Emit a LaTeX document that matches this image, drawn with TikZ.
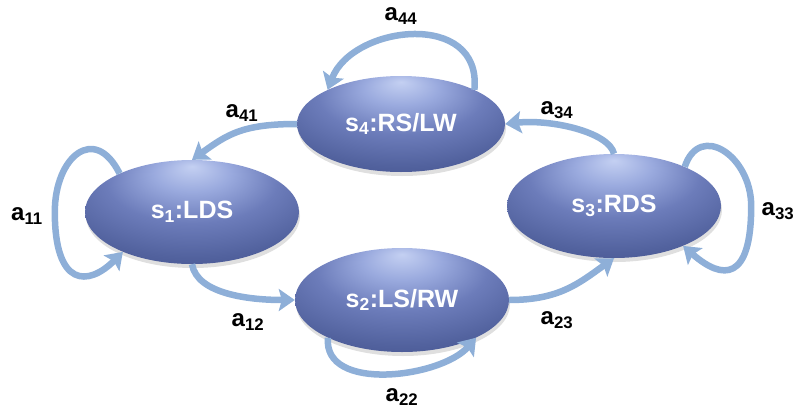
\documentclass[tikz,border=0pt]{standalone}
\usepackage{fontspec}
\setmainfont{Liberation Sans}
\usetikzlibrary{shapes.geometric,arrows.meta,calc,shadows}

\definecolor{linkblue}{HTML}{8EAFD8}
\definecolor{ballA}{HTML}{C4D0F2}
\definecolor{ballB}{HTML}{9AAADE}
\definecolor{ballC}{HTML}{6C7CBA}
\definecolor{ballD}{HTML}{52629E}
\definecolor{ballE}{HTML}{3E4C88}
\definecolor{ballF}{HTML}{2B366B}

% glossy fill of the state ellipses, brightest towards the top
\pgfdeclareradialshading{stateball}{\pgfpoint{0bp}{22bp}}{%
  color(0bp)=(ballA); color(9bp)=(ballB); color(20bp)=(ballC);
  color(32bp)=(ballD); color(44bp)=(ballE); color(60bp)=(ballF)}

\tikzset{
  statebox/.style={ellipse, shade, shading=stateball, inner sep=0pt,
    minimum width=214pt, minimum height=104pt, text=white,
    font=\fontsize{25}{30}\selectfont\bfseries,
    drop shadow={shadow xshift=1pt, shadow yshift=-4pt, opacity=0.25}},
  link/.style={draw=linkblue, line width=6.5pt,
    -{Stealth[length=16pt, width=22pt, inset=3pt]}},
  lbl/.style={font=\fontsize{24}{27}\selectfont\bfseries, text=black, inner sep=0pt}
}

\begin{document}
\begin{tikzpicture}[x=1pt, y=-1pt]
  \useasboundingbox (0,0) rectangle (797,413);

  % states
  \node[statebox] (s1) at (192,212) {s\textsubscript{1}:LDS};
  \node[statebox] (s2) at (402,300) {s\textsubscript{2}:LS/RW};
  \node[statebox] (s3) at (614,206) {s\textsubscript{3}:RDS};
  \node[statebox, minimum width=208pt, minimum height=96pt] (s4) at (401,124)
    {s\textsubscript{4}:RS/LW};

  % transitions
  \draw[link] (s4.25) .. controls +(8,-80) and +(25,-65) .. (s4.155);
  \draw[link] (s4.180) .. controls +(-55,0) and +(35,-25) .. (s1.90);
  \draw[link] (s1.152) .. controls +(-25,-50) and +(0,-55) .. ($(s1.west)+(-30,0)$)
                       .. controls +(0,75) and +(-35,35) .. (s1.210);
  \draw[link] (s1.270) .. controls +(5,30) and +(-45,0) .. (s2.180);
  \draw[link] (s2.207) .. controls +(-5,55) and +(-35,40) .. (s2.-27);
  \draw[link] (s2.0) .. controls +(50,0) and +(-35,25) .. (s3.270);
  \draw[link] (s3.90) .. controls +(-5,-22) and +(45,-5) .. (s4.0);
  \draw[link] (s3.29) .. controls +(15,-45) and +(0,-50) .. ($(s3.east)+(30,0)$)
                      .. controls +(0,75) and +(40,35) .. (s3.-30);

  % transition probabilities
  \node[lbl] (l44) at (401,16)  {a\textsubscript{44}};
  \node[lbl] (l41) at (242,113) {a\textsubscript{41}};
  \node[lbl] (l11) at (27,216)  {a\textsubscript{11}};
  \node[lbl] (l12) at (248,322) {a\textsubscript{12}};
  \node[lbl] (l22) at (402,397) {a\textsubscript{22}};
  \node[lbl] (l23) at (557,320) {a\textsubscript{23}};
  \node[lbl] (l34) at (557,110) {a\textsubscript{34}};
  \node[lbl] (l33) at (778,211) {a\textsubscript{33}};
\end{tikzpicture}
\end{document}
